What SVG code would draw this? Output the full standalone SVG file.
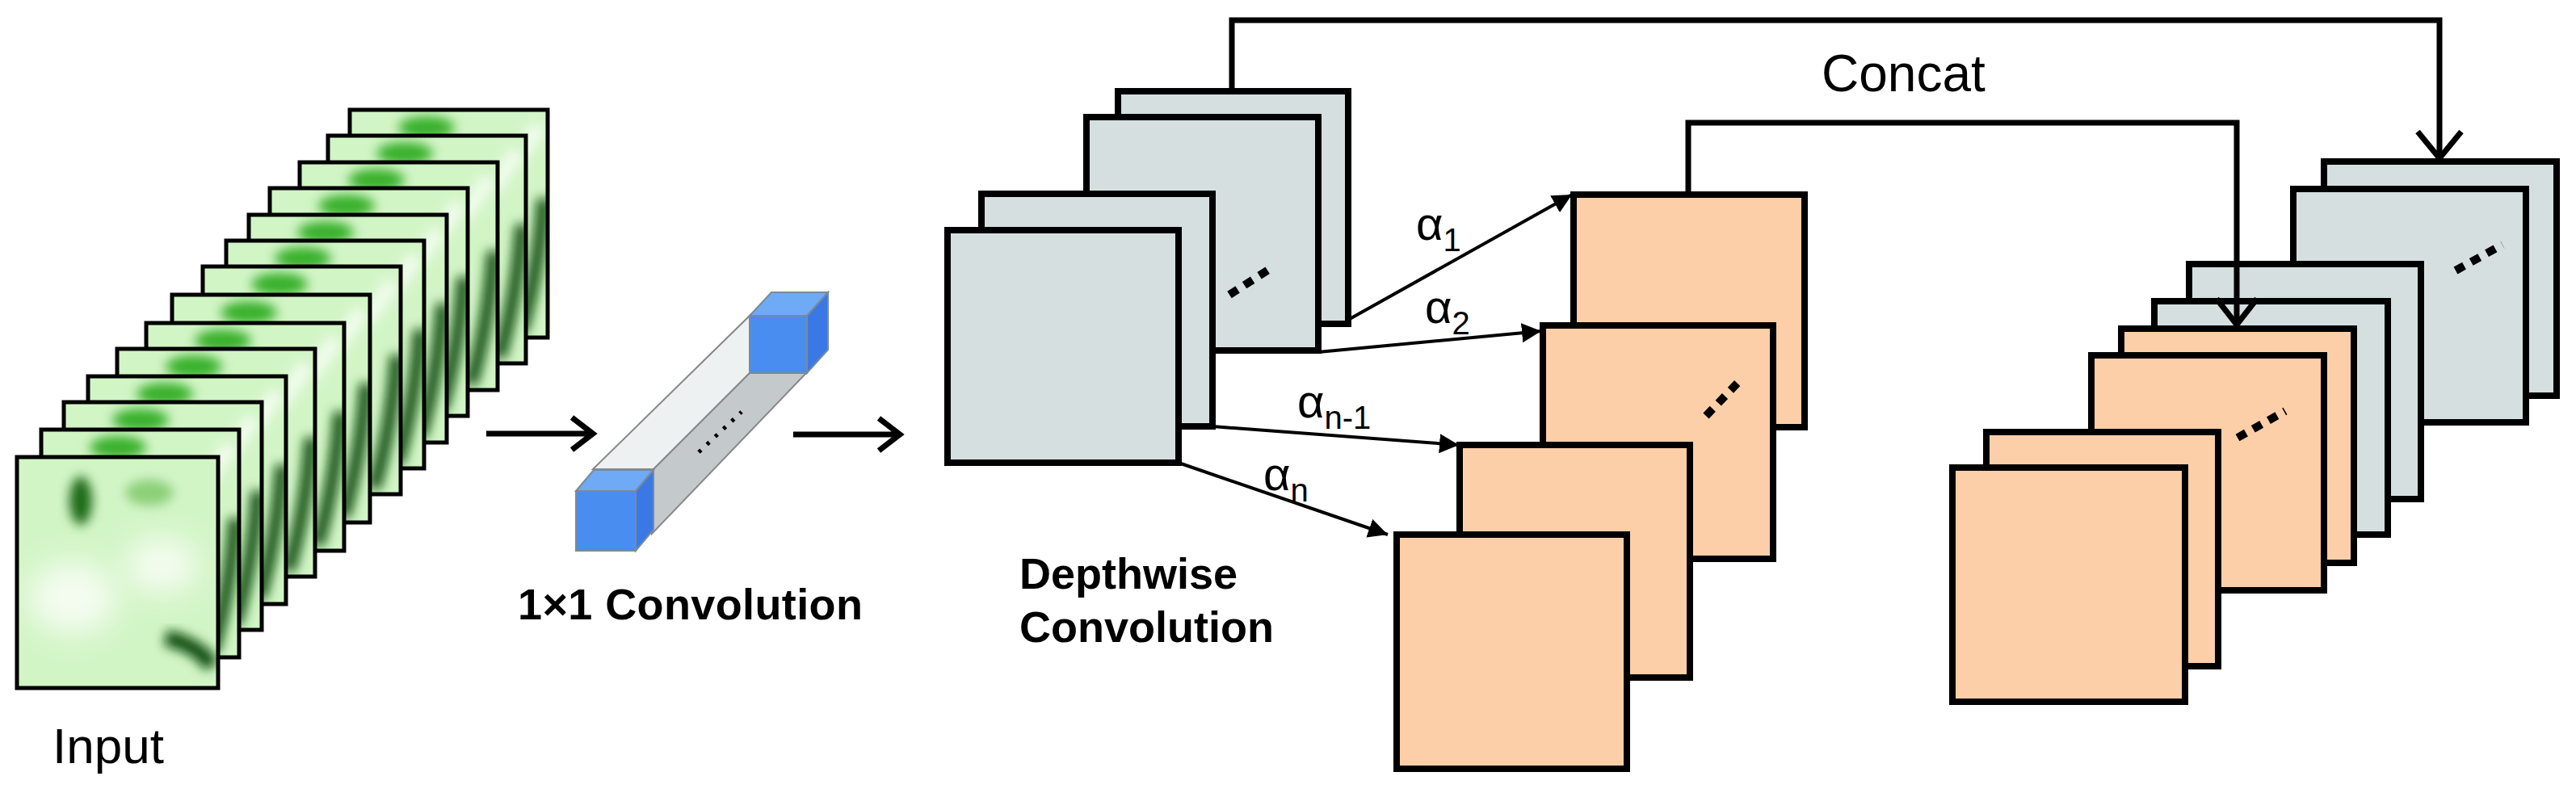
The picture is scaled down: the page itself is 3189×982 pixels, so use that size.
<svg xmlns="http://www.w3.org/2000/svg" xmlns:xlink="http://www.w3.org/1999/xlink" width="3189" height="982" viewBox="0 0 3189 982">
<style>
.box{stroke:#000;stroke-width:8;stroke-linejoin:miter}
.gray{fill:#d6dfe0}
.orange{fill:#fdcfa8}
.fr{stroke:#000;stroke-width:5;fill:none}
.con{stroke:#000;stroke-width:7;fill:none}
.al{stroke:#000;stroke-width:4;fill:none}
.dots{stroke:#000;stroke-width:10;stroke-dasharray:12 10;fill:none}
.t{font-family:"Liberation Sans",Arial,sans-serif;fill:#000}
.b{font-weight:bold}
.cf{fill:#4a8df0;stroke:#7a8a9a;stroke-width:2}
.ct{fill:#6eaaf6;stroke:#7a8a9a;stroke-width:2}
.cr{fill:#3a78e6;stroke:#7a8a9a;stroke-width:2}
</style>
<defs>
<filter id="blur" x="-50%" y="-50%" width="200%" height="200%"><feGaussianBlur stdDeviation="7"/></filter>
<filter id="blur2" x="-50%" y="-50%" width="200%" height="200%"><feGaussianBlur stdDeviation="18"/></filter>
<clipPath id="fc"><rect x="0" y="0" width="245" height="282"/></clipPath>
<marker id="ah" viewBox="0 0 10 10" refX="10" refY="5" markerWidth="6" markerHeight="6" orient="auto" markerUnits="strokeWidth"><path d="M0,0 L10,5 L0,10 z" fill="#000"/></marker>
<g id="frame">
<rect x="0" y="0" width="245" height="282" fill="#d2f5c6"/>
<g clip-path="url(#fc)">
<ellipse cx="95" cy="22" rx="35" ry="14" fill="#38b02a" filter="url(#blur)"/>
<path d="M200,70 L235,20" stroke="#f0fcec" stroke-width="20" fill="none" filter="url(#blur)"/>
<path d="M240,110 C236,170 228,220 212,275" stroke="#0f4d0a" stroke-width="16" fill="none" filter="url(#blur)"/>
</g>
<rect x="0" y="0" width="245" height="282" class="fr"/>
</g>
</defs>

<g id="input">
<use xlink:href="#frame" x="433" y="136"/>
<use xlink:href="#frame" x="406" y="168"/>
<use xlink:href="#frame" x="371" y="201"/>
<use xlink:href="#frame" x="334" y="233"/>
<use xlink:href="#frame" x="308" y="266"/>
<use xlink:href="#frame" x="280" y="298"/>
<use xlink:href="#frame" x="251" y="330"/>
<use xlink:href="#frame" x="213" y="365"/>
<use xlink:href="#frame" x="181" y="400"/>
<use xlink:href="#frame" x="145" y="432"/>
<use xlink:href="#frame" x="109" y="466"/>
<use xlink:href="#frame" x="79" y="498"/>
<use xlink:href="#frame" x="51" y="532"/>
<g id="input-front">
<clipPath id="fcf"><rect x="21" y="566" width="249" height="286"/></clipPath>
<rect x="21" y="566" width="249" height="286" fill="#d2f5c6"/>
<g clip-path="url(#fcf)">
<ellipse cx="90" cy="740" rx="55" ry="45" fill="#f4fcf0" filter="url(#blur2)"/>
<ellipse cx="200" cy="700" rx="45" ry="35" fill="#f4fcf0" filter="url(#blur2)"/>
<ellipse cx="100" cy="620" rx="14" ry="30" fill="#1f6a14" filter="url(#blur)"/>
<ellipse cx="185" cy="610" rx="30" ry="16" fill="#8ccf78" filter="url(#blur)"/>
<path d="M205,790 C230,795 250,805 262,825" stroke="#0f4d0a" stroke-width="20" fill="none" filter="url(#blur)"/>
</g>
<rect x="21" y="566" width="249" height="286" class="fr"/>
</g>
<text class="t" x="65" y="945" font-size="62">Input</text>
</g>

<g id="conv1x1">
<polygon points="734,581 928,391 928,462 809,581" fill="#eef1f2" stroke="#888" stroke-width="2"/>
<polygon points="809,581 928,462 998,462 807,661" fill="#c4c9cc" stroke="#888" stroke-width="2"/>
<line x1="865" y1="560" x2="918" y2="510" stroke="#000" stroke-width="5" stroke-dasharray="4 10"/>
<polygon class="ct" points="928,391 955,362 1025,362 999,391"/>
<polygon class="cr" points="999,391 1025,362 1025,433 999,462"/>
<rect class="cf" x="928" y="391" width="71" height="71"/>
<polygon class="ct" points="713,608 735,582 809,582 787,608"/>
<polygon class="cr" points="787,608 809,582 809,656 787,682"/>
<rect class="cf" x="713" y="608" width="74" height="74"/>
<text class="t b" x="641" y="767" font-size="54" textLength="427">1×1 Convolution</text>
</g>

<g id="depthwise">
<rect class="box gray" x="1384" y="113" width="285" height="288"/>
<rect class="box gray" x="1345" y="145" width="287" height="289"/>
<line class="dots" x1="1522" y1="365" x2="1572" y2="333"/>
<rect class="box gray" x="1215" y="240" width="286" height="288"/>
<rect class="box gray" x="1173" y="285" width="286" height="288"/>
<text class="t b" x="1262" y="729" font-size="54">Depthwise</text>
<text class="t b" x="1262" y="795" font-size="54">Convolution</text>
</g>

<g id="scaled">
<rect class="box orange" x="1948" y="241" width="286" height="288"/>
<rect class="box orange" x="1910" y="403" width="285" height="289"/>
<line class="dots" x1="2112" y1="515" x2="2156" y2="469"/>
<rect class="box orange" x="1807" y="551" width="285" height="288"/>
<rect class="box orange" x="1729" y="662" width="285" height="290"/>
</g>

<g id="output">
<rect class="box gray" x="2877" y="200" width="288" height="290"/>
<rect class="box gray" x="2839" y="234" width="288" height="289"/>
<line class="dots" x1="3040" y1="335" x2="3098" y2="303"/>
<rect class="box gray" x="2710" y="327" width="287" height="291"/>
<rect class="box gray" x="2667" y="373" width="289" height="289"/>
<rect class="box orange" x="2626" y="407" width="288" height="290"/>
<rect class="box orange" x="2589" y="440" width="288" height="291"/>
<line class="dots" x1="2770" y1="542" x2="2829" y2="509"/>
<rect class="box orange" x="2459" y="535" width="287" height="290"/>
<rect class="box orange" x="2417" y="579" width="288" height="290"/>
</g>

<g id="connectors">
<path class="con" d="M602,537 H732 M708,517 L734,537 L708,557" stroke-width="8"/>
<path class="con" d="M982,538 H1112 M1088,518 L1114,538 L1088,558" stroke-width="8"/>
<line class="al" x1="1669" y1="396" x2="1946" y2="241" marker-end="url(#ah)"/>
<line class="al" x1="1632" y1="436" x2="1908" y2="410" marker-end="url(#ah)"/>
<line class="al" x1="1501" y1="528" x2="1806" y2="551" marker-end="url(#ah)"/>
<line class="al" x1="1459" y1="573" x2="1718" y2="662" marker-end="url(#ah)"/>
<path class="con" d="M1525,113 V25 H3020 V194"/>
<path class="con" d="M2993,163 L3020,196 L3047,163"/>
<path class="con" d="M2090,241 V152 H2769 V400"/>
<path class="con" d="M2744,370 L2769,402 L2794,370"/>
<text class="t" x="1753" y="297" font-size="58">α<tspan font-size="40" dy="14">1</tspan></text>
<text class="t" x="1764" y="400" font-size="58">α<tspan font-size="40" dy="14">2</tspan></text>
<text class="t" x="1606" y="517" font-size="58">α<tspan font-size="40" dy="14">n-1</tspan></text>
<text class="t" x="1564" y="607" font-size="58">α<tspan font-size="40" dy="14">n</tspan></text>
<text class="t" x="2255" y="113" font-size="64">Concat</text>
</g>
</svg>
